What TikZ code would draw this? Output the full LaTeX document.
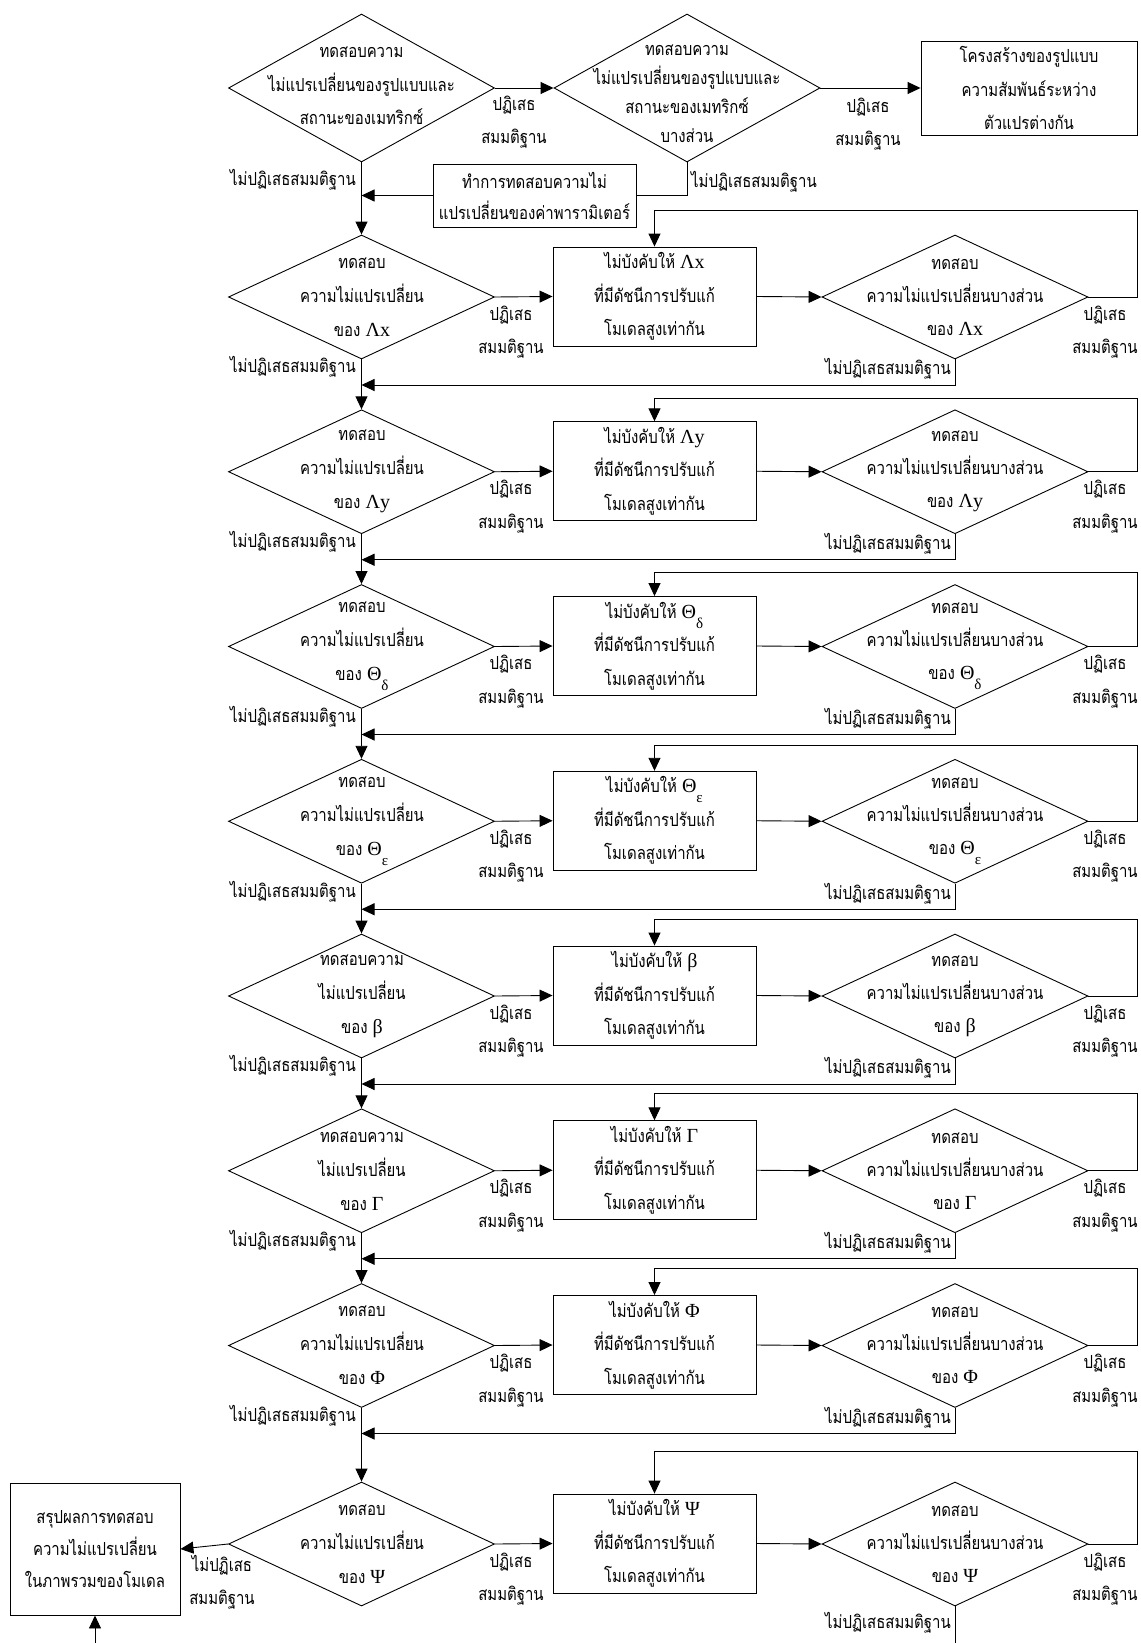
\documentclass[tikz,border=0pt]{standalone}
\usepackage{fontspec}
\newfontfamily\thai[Script=Thai,FakeStretch=0.83]{Loma}
\newfontfamily\grk{Liberation Serif}
\usetikzlibrary{arrows.meta,shapes.geometric}

\newcommand{\thaitext}{\thai\fontsize{18}{33.5}\selectfont}
\newcommand{\gk}[1]{{\grk\fontsize{20}{20}\selectfont #1}}
\newcommand{\gksub}[2]{{\grk\fontsize{20}{20}\selectfont #1\raisebox{-10pt}{\fontsize{15}{15}\selectfont #2}}}

\tikzset{
  ln/.style={line width=0.9pt, draw=black},
  arr/.style={ln, -{Triangle[length=13pt,width=12pt]}},
  dia/.style={draw, line width=0.9pt, shape=diamond, inner sep=0pt,
              minimum width=266pt, minimum height=124pt},
  box/.style={draw, line width=0.9pt, rectangle, inner sep=0pt,
              align=center, font=\thaitext},
  txt/.style={align=center, inner sep=0pt, font=\thaitext},
}

\begin{document}
\begin{tikzpicture}[x=1pt,y=-1pt]
\useasboundingbox (0,0) rectangle (1140,1643);

% ---- top row: configural and partial configural tests ----
\node[dia, minimum height=148pt] (d1) at (361.5,88) {};
\node[txt] (d1t) at (361.5,86) {ทดสอบความ\\ไม่แปรเปลี่ยนของรูปแบบและ\\สถานะของเมทริกซ์};
\node[dia, minimum height=148pt] (d2) at (687,88) {};
\node[txt, font=\thai\fontsize{18}{29}\selectfont] (d2t) at (687,94) {ทดสอบความ\\ไม่แปรเปลี่ยนของรูปแบบและ\\สถานะของเมทริกซ์\\บางส่วน};
\node[box, minimum width=216pt, minimum height=94pt] (b3) at (1029,88) {โครงสร้างของรูปแบบ\\ความสัมพันธ์ระหว่าง\\ตัวแปรต่างกัน};
\node[box, minimum width=203pt, minimum height=63pt, font=\thai\fontsize{18}{31}\selectfont] (bp) at (534.5,195.5) {ทำการทดสอบความไม่\\แปรเปลี่ยนของค่าพารามิเตอร์};

\draw[arr] (d1.east) -- (d2.west);
\draw[arr] (d2.east) -- (b3.west);
\draw[ln] (d2.south) |- (bp.east);

\node[txt] (l1) at (514,122) {ปฏิเสธ\\สมมติฐาน};
\node[txt] (l2) at (868,124) {ปฏิเสธ\\สมมติฐาน};
\node[txt, anchor=east] (l3) at (356,180) {ไม่ปฏิเสธสมมติฐาน};
\node[txt, anchor=west] (l4) at (691,182) {ไม่ปฏิเสธสมมติฐาน};

% ---- one row per parameter matrix ----
\foreach \k/\yc/\lt/\la/\lb/\sym in {
  1/297/210/ทดสอบ/ความไม่แปรเปลี่ยน/{\gk{Λx}},
  2/471.75/398/ทดสอบ/ความไม่แปรเปลี่ยน/{\gk{Λy}},
  3/646.5/572/ทดสอบ/ความไม่แปรเปลี่ยน/{\gksub{Θ}{δ}},
  4/821.25/745/ทดสอบ/ความไม่แปรเปลี่ยน/{\gksub{Θ}{ε}},
  5/996/919/ทดสอบความ/ไม่แปรเปลี่ยน/{\gk{β}},
  6/1170.75/1093/ทดสอบความ/ไม่แปรเปลี่ยน/{\gk{Γ}},
  7/1345.5/1268/ทดสอบ/ความไม่แปรเปลี่ยน/{\gk{Φ}},
  8/1544/1451/ทดสอบ/ความไม่แปรเปลี่ยน/{\gk{Ψ}}}{
  \node[dia] (md\k) at (361.5,\yc) {};
  \node[txt, font=\thai\fontsize{18}{34}\selectfont] (mdt\k) at (362,\yc) {\la\\\lb\\ของ \sym};
  \node[box, minimum width=203pt, minimum height=99pt] (bx\k) at (654.5,\yc-0.5) {ไม่บังคับให้ \sym\\ที่มีดัชนีการปรับแก้\\โมเดลสูงเท่ากัน};
  \node[dia] (pd\k) at (955,\yc) {};
  \node[txt, font=\thai\fontsize{18}{33}\selectfont] (pdt\k) at (955,\yc) {ทดสอบ\\ความไม่แปรเปลี่ยนบางส่วน\\ของ \sym};
  \coordinate (lp\k) at (1137.5,\lt);
  \draw[arr] (md\k.east) -- (bx\k.west);
  \draw[arr] (bx\k.east) -- (pd\k.west);
  \draw[arr] (pd\k.east) -| (lp\k) -| (bx\k.north);
  \node[txt] (ra\k) at (511,\yc+35) {ปฏิเสธ\\สมมติฐาน};
  \node[txt] (rb\k) at (1105,\yc+35) {ปฏิเสธ\\สมมติฐาน};
}

% ---- "not rejected" paths back into the main column ----
\draw[arr] (bp.west) -- (bp.west -| md1.north);
\draw[arr] (d1.south) -- (md1.north);
\foreach \k/\yc in {1/297,2/471.75,3/646.5,4/821.25,5/996,6/1170.75,7/1345.5}{
  \pgfmathtruncatemacro{\nx}{\k+1}
  \coordinate (ret\k) at (361.5,\yc+88);
  \draw[arr] (pd\k.south) |- (ret\k);
  \draw[arr] (md\k.south) -- (md\nx.north);
  \node[txt, anchor=east] (na\k) at (356,\yc+70) {ไม่ปฏิเสธสมมติฐาน};
  \node[txt, anchor=east] (nb\k) at (951,\yc+72) {ไม่ปฏิเสธสมมติฐาน};
}

% ---- summary box and page-bottom connectors ----
\node[box, minimum width=170pt, minimum height=132pt, font=\thai\fontsize{18}{32}\selectfont] (sum) at (95,1549) {สรุปผลการทดสอบ\\ความไม่แปรเปลี่ยน\\ในภาพรวมของโมเดล};
\draw[arr] (md8.west) -- (sum.east);
\node[txt] (nl8) at (222,1582) {ไม่ปฏิเสธ\\สมมติฐาน};
\coordinate (bot1) at (95,1643);
\coordinate (bot2) at (955,1643);
\draw[arr] (bot1) -- (sum.south);
\draw[ln] (pd8.south) -- (bot2);
\node[txt, anchor=east] (nb8) at (951,1623) {ไม่ปฏิเสธสมมติฐาน};
\end{tikzpicture}
\end{document}
